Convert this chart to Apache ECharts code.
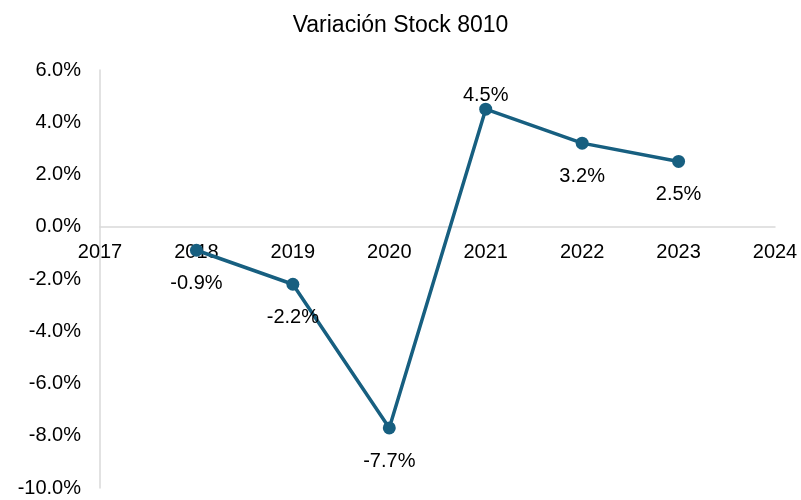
<!DOCTYPE html>
<html>
<head>
<meta charset="utf-8">
<script src="https://cdn.jsdelivr.net/npm/echarts@6/dist/echarts.min.js"></script>
<style>
  html, body { margin: 0; padding: 0; background: #fff; }
  #chart { width: 801px; height: 500px; }
</style>
</head>
<body>
<div id="chart"></div>
<script>
const years = [2018, 2019, 2020, 2021, 2022, 2023]
const variation = [-0.9, -2.2, -7.7, 4.5, 3.2, 2.5]
// which labels sit above the point
const labelAbove = [false, false, false, true, false, false]

const font = 'Liberation Sans, Arial, sans-serif'
const lineColor = '#175f80'

const yMin = -10
const yMax = 6
const gridTop = 70
const gridBottom = 12
const chartHeight = 500

// x axis sits on the zero line, labels included
const plotHeight = chartHeight - gridTop - gridBottom
const zeroOffset = -plotHeight * (0 - yMin) / (yMax - yMin)

const chart = echarts.init(document.getElementById('chart'))

const data = years.map((y, i) => ({
  value: [y, variation[i]],
  label: labelAbove[i]
    ? { position: 'top', distance: -3 }
    : { position: 'bottom', distance: 17 }
}))

chart.setOption({
  backgroundColor: '#fff',
  animation: false,
  title: {
    text: 'Variación Stock 8010',
    left: 'center',
    top: 9,
    textStyle: {
      fontFamily: font,
      fontSize: 23,
      fontWeight: 'normal',
      color: '#000'
    }
  },
  grid: {
    left: 100,
    right: 26,
    top: gridTop,
    bottom: gridBottom,
    outerBoundsMode: 'none'
  },
  xAxis: {
    type: 'value',
    min: 2017,
    max: 2024,
    interval: 1,
    offset: zeroOffset,
    axisLine: {
      onZero: false,
      lineStyle: { color: '#d9d9d9', width: 1.5 }
    },
    axisTick: { show: false },
    splitLine: { show: false },
    axisLabel: {
      margin: 16,
      fontFamily: font,
      fontSize: 20,
      color: '#000',
      formatter: v => String(v)
    }
  },
  yAxis: {
    type: 'value',
    min: yMin,
    max: yMax,
    interval: 2,
    axisLine: {
      show: true,
      lineStyle: { color: '#d9d9d9', width: 1.5 }
    },
    axisTick: { show: false },
    splitLine: { show: false },
    axisLabel: {
      margin: 19,
      fontFamily: font,
      fontSize: 20,
      color: '#000',
      formatter: v => v.toFixed(1) + '%'
    }
  },
  series: [
    {
      type: 'line',
      data,
      symbol: 'circle',
      symbolSize: 13,
      lineStyle: { color: lineColor, width: 3.5 },
      itemStyle: { color: lineColor },
      label: {
        show: true,
        fontFamily: font,
        fontSize: 20,
        color: '#000',
        formatter: p => p.value[1].toFixed(1) + '%'
      }
    }
  ]
})
</script>
</body>
</html>
